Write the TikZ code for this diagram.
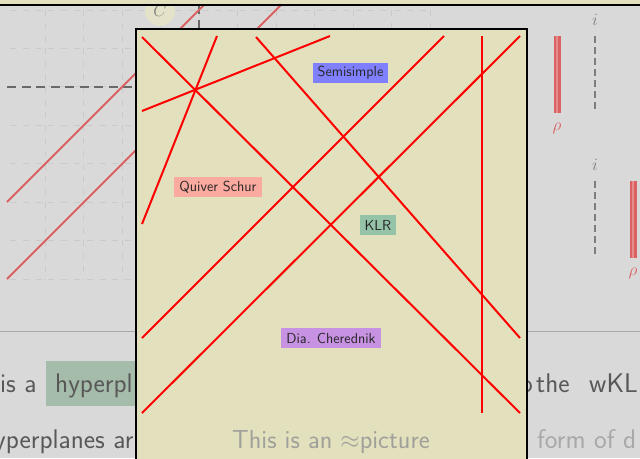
\documentclass[tikz,border=0pt]{standalone}
\definecolor{bggray}{RGB}{217,217,217}
\definecolor{gridc}{RGB}{202,202,202}
\definecolor{popbg}{RGB}{227,224,189}
\definecolor{fred}{RGB}{218,98,98}
\definecolor{fredlight}{RGB}{230,140,140}
\definecolor{axisc}{RGB}{105,105,105}
\definecolor{idash}{RGB}{125,125,125}
\definecolor{cfill}{RGB}{228,226,200}
\definecolor{dtext}{RGB}{88,88,88}
\definecolor{ltext}{RGB}{168,168,168}
\definecolor{captext}{RGB}{160,160,155}
\definecolor{hlgreen}{RGB}{165,188,170}
\definecolor{semiblue}{RGB}{128,128,255}
\definecolor{qsred}{RGB}{250,170,158}
\definecolor{klrgreen}{RGB}{148,195,168}
\definecolor{cherpurple}{RGB}{200,146,226}
\definecolor{sepc}{RGB}{170,170,170}
\tikzset{
  gridline/.style={draw=gridc, line width=1pt, dash pattern=on 6pt off 6.8pt},
  axisdash/.style={draw=axisc, line width=2.5pt, dash pattern=on 9pt off 5.5pt},
  idashed/.style={draw=idash, line width=2.5pt, dash pattern=on 7pt off 4pt},
  fadedline/.style={draw=fred, line width=2pt},
  rhobar/.style={draw=fred, line width=2.5pt, double=fredlight, double distance=2pt},
  hyp/.style={draw=red, line width=2pt},
  mathlbl/.style={font=\fontsize{17}{20}\selectfont, inner sep=0pt},
  bigtext/.style={font=\fontsize{27}{31}\selectfont\sffamily, inner sep=0pt, anchor=base west},
  lbl/.style={font=\fontsize{14.5}{16}\selectfont\sffamily, text=black!85, inner xsep=5pt, inner ysep=0pt, minimum height=20pt},
  popup/.style={draw=black, line width=1.5pt, fill=popbg}
}
\begin{document}
\begin{tikzpicture}[x=1pt,y=-1pt]
\path[use as bounding box] (0,0) rectangle (640,458);
\clip (0,0) rectangle (640,458);
\fill[bggray] (0,0) rectangle (640,458);
% grid
\foreach \k in {1,...,11} \draw[gridline] ({6.5+38.5*\k},10) -- ({6.5+38.5*\k},279);
\foreach \k in {0,...,7} \draw[gridline] (10,{10+38.43*\k}) -- (430,{10+38.43*\k});
% circle C
\node[circle, fill=cfill, minimum size=30pt, inner sep=0pt, mathlbl, text=gray] (C) at (160,11) {$C$};
% dashed axes
\coordinate (hx0) at (7,87);
\coordinate (hx1) at (199,87);
\coordinate (vy0) at (199,5);
\draw[axisdash] (hx0) -- (hx1);
\draw[axisdash] (vy0) -- (hx1);
% faded red lines
\coordinate (r1a) at (7,202);
\coordinate (r1b) at (204,5);
\coordinate (r2a) at (7,279);
\coordinate (r2b) at (281,5);
\draw[fadedline] (r1a) -- (r1b);
\draw[fadedline] (r2a) -- (r2b);
% right side strands
\coordinate (b1t) at (557,36);
\coordinate (b1b) at (557,113);
\draw[rhobar] (b1t) -- (b1b);
\node[mathlbl, text=fred] (rho1) at (557,128) {$\rho$};
\node[mathlbl, text=gray] (i1) at (595,20) {$i$};
\coordinate (d1t) at (595,36);
\coordinate (d1b) at (595,112);
\draw[idashed] (d1t) -- (d1b);
\node[mathlbl, text=gray] (i2) at (595,165) {$i$};
\coordinate (d2t) at (595,181);
\coordinate (d2b) at (595,257);
\draw[idashed] (d2t) -- (d2b);
\coordinate (b2t) at (633,181);
\coordinate (b2b) at (633,258);
\draw[rhobar] (b2t) -- (b2b);
\node[mathlbl, text=fred] (rho2) at (633,273) {$\rho$};
% top band
\fill[popbg] (0,0) rectangle (640,5);
\draw[black, line width=1.5pt] (0,5) -- (640,5);
% separator
\draw[sepc, line width=1pt] (0,331) -- (640,331);
% slide text
\node[bigtext, text=dtext] (t1) at (0,392) {is a};
\fill[hlgreen] (46,361) rectangle (140,406);
\node[bigtext, text=dtext] (t2) at (55,392) {hyperpl};
\node[bigtext, text=dtext, anchor=base east] (t3o) at (533,392) {o};
\node[bigtext, text=dtext] (t3a) at (536,392) {the};
\node[bigtext, text=dtext] (t3b) at (589,392) {wKL};
\node[bigtext, text=dtext] (t4) at (-6,448) {yperplanes ar};
\node[bigtext, text=ltext] (t5) at (537,448) {form of d};
% popup
\draw[popup] (136,29) rectangle (527,470);
\coordinate (A1) at (142,37);  \coordinate (A2) at (520,413);
\coordinate (B1) at (217,36);  \coordinate (B2) at (142,224);
\coordinate (C1) at (142,111); \coordinate (C2) at (330,36);
\coordinate (D1) at (256,37);  \coordinate (D2) at (520,338);
\coordinate (E1) at (444,36);  \coordinate (E2) at (142,338);
\coordinate (F1) at (520,36);  \coordinate (F2) at (142,413);
\coordinate (G1) at (482,36);  \coordinate (G2) at (482,413);
\draw[hyp] (A1) -- (A2);
\draw[hyp] (B1) -- (B2);
\draw[hyp] (C1) -- (C2);
\draw[hyp] (D1) -- (D2);
\draw[hyp] (E1) -- (E2);
\draw[hyp] (F1) -- (F2);
\draw[hyp] (G1) -- (G2);
\node[lbl, fill=semiblue] (semi) at (350.5,73) {Semisimple};
\node[lbl, fill=qsred] (qs) at (218,187) {Quiver Schur};
\node[lbl, fill=klrgreen] (klr) at (378,225) {KLR};
\node[lbl, fill=cherpurple] (cher) at (331,338) {Dia. Cherednik};
\node[font=\fontsize{26}{30}\selectfont\sffamily, text=captext, inner sep=0pt, anchor=base west] (cap) at (232,448) {This is an $\approx$picture};
\end{tikzpicture}
\end{document}
